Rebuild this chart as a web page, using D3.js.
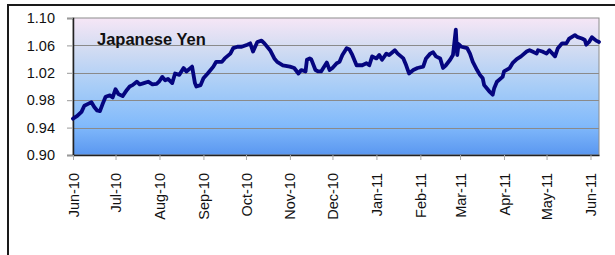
<!DOCTYPE html>
<html><head><meta charset="utf-8">
<script src="https://cdn.jsdelivr.net/npm/d3@7"></script>
<style>
html,body{margin:0;padding:0;background:#fff;}
svg{display:block;}
</style></head>
<body>
<svg id="chart" width="615" height="255"></svg>
<script>
const title = "Japanese Yen";
const dates = ["2010-06-01","2010-06-04","2010-06-07","2010-06-09","2010-06-12","2010-06-14","2010-06-16","2010-06-18","2010-06-20","2010-06-22","2010-06-24","2010-06-27","2010-06-29","2010-07-01","2010-07-03","2010-07-06","2010-07-09","2010-07-11","2010-07-13","2010-07-16","2010-07-18","2010-07-21","2010-07-24","2010-07-27","2010-07-30","2010-08-01","2010-08-03","2010-08-05","2010-08-07","2010-08-10","2010-08-12","2010-08-15","2010-08-18","2010-08-20","2010-08-24","2010-08-26","2010-08-27","2010-08-30","2010-09-01","2010-09-04","2010-09-08","2010-09-10","2010-09-14","2010-09-16","2010-09-20","2010-09-22","2010-09-25","2010-09-28","2010-10-02","2010-10-04","2010-10-06","2010-10-09","2010-10-12","2010-10-14","2010-10-18","2010-10-21","2010-10-23","2010-10-27","2010-11-01","2010-11-04","2010-11-07","2010-11-09","2010-11-12","2010-11-13","2010-11-15","2010-11-16","2010-11-19","2010-11-21","2010-11-23","2010-11-27","2010-11-29","2010-12-01","2010-12-04","2010-12-06","2010-12-08","2010-12-11","2010-12-13","2010-12-15","2010-12-18","2010-12-22","2010-12-25","2010-12-27","2010-12-29","2011-01-01","2011-01-03","2011-01-05","2011-01-08","2011-01-10","2011-01-14","2011-01-16","2011-01-20","2011-01-22","2011-01-24","2011-01-27","2011-01-30","2011-02-03","2011-02-05","2011-02-08","2011-02-10","2011-02-12","2011-02-15","2011-02-17","2011-02-19","2011-02-22","2011-02-24","2011-02-26","2011-02-27","2011-02-28","2011-03-02","2011-03-06","2011-03-08","2011-03-10","2011-03-13","2011-03-15","2011-03-17","2011-03-18","2011-03-20","2011-03-22","2011-03-24","2011-03-25","2011-03-27","2011-03-31","2011-04-01","2011-04-05","2011-04-07","2011-04-10","2011-04-13","2011-04-17","2011-04-19","2011-04-21","2011-04-24","2011-04-25","2011-04-28","2011-05-01","2011-05-03","2011-05-07","2011-05-09","2011-05-12","2011-05-15","2011-05-17","2011-05-21","2011-05-23","2011-05-26","2011-05-28","2011-05-29","2011-05-31","2011-06-02","2011-06-05","2011-06-07"];
const values = [0.953,0.957,0.963,0.972,0.975,0.977,0.970,0.965,0.964,0.975,0.985,0.987,0.984,0.996,0.989,0.986,0.995,1.000,1.002,1.007,1.003,1.005,1.007,1.003,1.004,1.008,1.014,1.009,1.011,1.005,1.019,1.017,1.027,1.022,1.029,1.005,1.000,1.002,1.012,1.019,1.029,1.036,1.036,1.041,1.048,1.056,1.058,1.058,1.061,1.063,1.051,1.065,1.067,1.063,1.053,1.041,1.036,1.031,1.029,1.027,1.019,1.024,1.022,1.039,1.041,1.040,1.024,1.022,1.022,1.035,1.024,1.027,1.034,1.036,1.046,1.056,1.054,1.046,1.031,1.031,1.034,1.031,1.044,1.041,1.046,1.039,1.048,1.046,1.053,1.048,1.041,1.031,1.019,1.024,1.027,1.029,1.041,1.048,1.050,1.044,1.041,1.027,1.031,1.039,1.046,1.083,1.046,1.062,1.058,1.056,1.048,1.036,1.024,1.017,1.012,1.002,0.997,0.992,0.988,0.997,1.007,1.014,1.022,1.027,1.034,1.040,1.044,1.051,1.053,1.051,1.048,1.053,1.051,1.048,1.053,1.044,1.056,1.063,1.063,1.070,1.075,1.072,1.070,1.068,1.061,1.065,1.072,1.067,1.065];
const yTicks = [0.90, 0.94, 0.98, 1.02, 1.06, 1.10];
const xTickDates = ["2010-06-01","2010-07-01","2010-08-01","2010-09-01","2010-10-01","2010-11-01","2010-12-01","2011-01-01","2011-02-01","2011-03-01","2011-04-01","2011-05-01","2011-06-01"];
const xDomain = ["2010-06-01","2011-06-07"];

const parse = d3.utcParse("%Y-%m-%d");
const data = dates.map((d,i)=>({date: parse(d), value: values[i]}));

const svg = d3.select("#chart");
const L = 73, R = 599, T = 18, B = 155;
const font = "'Liberation Sans', Arial, sans-serif";

// outer frame
svg.append("path").attr("d","M8,256 L8,5 L616,5").attr("fill","none")
  .attr("stroke","#1a1a1a").attr("stroke-width",2);

const x = d3.scaleUtc().domain(xDomain.map(parse)).range([L, R]);
const y = d3.scaleLinear().domain([0.90, 1.10]).range([B, T]);

const defs = svg.append("defs");
const grad = defs.append("linearGradient").attr("id","bg").attr("x1",0).attr("y1",0).attr("x2",0).attr("y2",1);
[["0%","#f6e6f6"],["22%","#d3dcf2"],["50%","#a8cdf7"],["78%","#82bafb"],["100%","#5a97f0"]]
  .forEach(s=>grad.append("stop").attr("offset",s[0]).attr("stop-color",s[1]));

svg.append("rect").attr("x",L).attr("y",T).attr("width",R-L).attr("height",B-T)
  .attr("fill","url(#bg)").attr("stroke","#8c8c8c").attr("stroke-width",1);

// gridlines
svg.append("g").selectAll("line").data(yTicks.slice(1,-1)).join("line")
  .attr("x1",L).attr("x2",R).attr("y1",d=>Math.round(y(d))+0.5).attr("y2",d=>Math.round(y(d))+0.5)
  .attr("stroke","#8a8a8a").attr("stroke-width",1);

// y axis
const yAxis = svg.append("g").attr("transform",`translate(${L},0)`)
  .call(d3.axisLeft(y).tickValues(yTicks).tickFormat(d3.format(".2f")).tickSize(6).tickPadding(12));
yAxis.select(".domain").attr("stroke","#222").attr("stroke-width",1.5);
yAxis.selectAll(".tick line").attr("stroke","#999");
yAxis.selectAll("text").attr("font-family",font).attr("font-size","14.5px").attr("fill","#111");

// x axis
const xAxis = svg.append("g").attr("transform",`translate(0,${B})`)
  .call(d3.axisBottom(x).tickValues(xTickDates.map(parse)).tickFormat(d3.utcFormat("%b-%y")).tickSize(5).tickSizeOuter(0));
xAxis.select(".domain").attr("stroke","#222").attr("stroke-width",1.5);
xAxis.selectAll(".tick line").attr("stroke","#aaa");
xAxis.selectAll("text").attr("font-family",font).attr("font-size","14.5px").attr("fill","#111")
  .attr("transform","rotate(-90)").attr("text-anchor","end").attr("x",-18).attr("y",0).attr("dy","0.35em");

// line
svg.append("path").datum(data)
  .attr("d", d3.line().x(d=>x(d.date)).y(d=>y(d.value)))
  .attr("fill","none").attr("stroke","#05057f").attr("stroke-width",3.8)
  .attr("stroke-linejoin","round").attr("stroke-linecap","round");

// title
svg.append("text").attr("x",97).attr("y",45).text(title)
  .attr("font-family",font).attr("font-weight","bold").attr("font-size","16.5px").attr("fill","#111");
</script>
</body></html>
